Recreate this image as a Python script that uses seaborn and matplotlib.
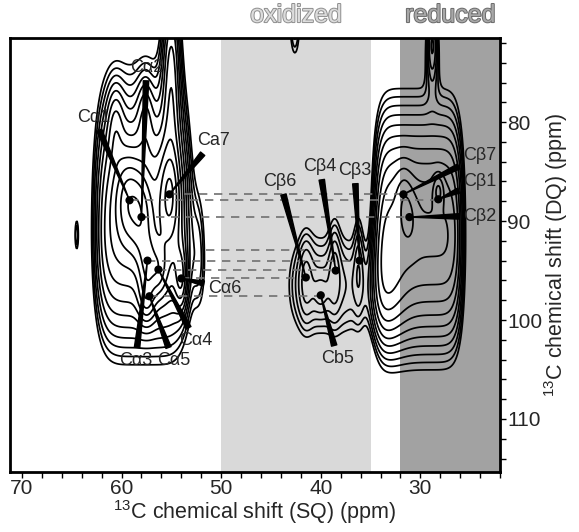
import numpy as np
import matplotlib.pyplot as plt
import seaborn as sns
from matplotlib import patheffects as pe
from matplotlib.ticker import MultipleLocator

# ---- spectrum model: peak table (ppm) ----
# columns: SQ centre, DQ centre, SQ half-width, SQ shape exponent,
#          DQ width towards low ppm (up), DQ width towards high ppm (down), amplitude
peak_sq    = [57.9, 55.0, 59.3, 58.0, 55.2, 57.4, 56.3, 54.0, 57.5, 60.6, 57.6, 64.5,
              52.2,
              39.6, 41.5, 38.6, 36.2, 40.0, 42.6,
              30.2, 33.8, 31.7, 28.2, 31.1, 28.8]
peak_dq    = [91.0, 74.0, 88.0, 89.6, 87.3, 94.0, 95.0, 95.8, 97.6, 80.0, 79.0, 91.4,
              94.0,
              96.5, 95.5, 94.5, 93.5, 97.5, 70.0,
              91.5, 97.0, 87.3, 86.9, 89.6, 72.0]
peak_wsq   = [4.7, 0.9, 1.2, 1.0, 0.9, 0.8, 0.8, 0.6, 0.8, 0.8, 0.8, 0.25,
              0.8,
              4.0, 0.7, 0.6, 0.5, 0.8, 0.6,
              4.4, 2.0, 0.8, 0.5, 0.8, 0.6]
peak_psq   = [6, 2, 2, 2, 2, 2, 2, 2, 2, 2, 2, 2,
              2,
              4, 2, 2, 2, 2, 2,
              8, 2, 2, 2, 2, 2]
peak_wup   = [13.0, 9.0, 4.0, 4.0, 4.0, 2.5, 2.5, 3.0, 2.5, 4.0, 4.0, 2.2,
              8.0,
              6.0, 5.0, 6.0, 6.0, 2.0, 4.0,
              11.0, 6.0, 3.0, 1.5, 3.0, 4.0]
peak_wdown = [10.5, 10.0, 4.0, 4.0, 4.0, 2.5, 2.5, 3.0, 2.5, 4.0, 4.0, 2.2,
              6.0,
              6.0, 5.0, 5.0, 6.0, 2.0, 4.0,
              10.0, 5.0, 3.0, 1.5, 3.0, 4.0]
peak_amp   = [0.42, 0.22, 0.28, 0.22, 0.22, 0.18, 0.18, 0.18, 0.18, 0.1, 0.1, 0.12,
              0.12,
              0.15, 0.06, 0.07, 0.07, 0.05, 0.14,
              0.5, 0.15, 0.1, 0.2, 0.1, 0.2]

# ---- assignments: Ca/Cb cross-peak positions and label positions (ppm) ----
ca_names = ['C\u03b11', 'C\u03b12', 'Ca7', 'C\u03b16', 'C\u03b14', 'C\u03b13', 'C\u03b15']
ca_sq    = [59.2, 58.0, 55.2, 54.0, 56.3, 57.4, 57.2]
ca_dq    = [87.9, 89.6, 87.3, 95.8, 94.9, 94.0, 97.6]
ca_tx    = [62.8, 57.5, 50.8, 49.6, 52.6, 58.6, 54.8]
ca_ty    = [79.5, 74.5, 81.9, 96.8, 102.1, 104.1, 104.1]

cb_names = ['C\u03b21', 'C\u03b22', 'C\u03b27', 'C\u03b26', 'C\u03b24', 'C\u03b23', 'Cb5']
cb_sq    = [28.2, 31.1, 31.7, 41.5, 38.5, 36.1, 40.0]
cb_dq    = [87.8, 89.6, 87.3, 95.7, 95.0, 94.0, 97.5]
cb_tx    = [25.7, 25.7, 25.7, 44.1, 40.1, 36.6, 38.3]
cb_ty    = [86.0, 89.5, 83.4, 86.0, 84.5, 84.9, 103.9]

extra_dash_dq = [92.9]
extra_dash_sq = [(51.5, 41.0)]

ox_range  = (50, 35)
red_range = (32, 22)

# ---- build the 2D map ----
sq = np.linspace(71.2, 22.0, 600)
dq = np.linspace(71.5, 115.4, 600)
SQ, DQ = np.meshgrid(sq, dq)
Z = np.zeros_like(SQ)
for x0, y0, wx, px, wu, wd, a in zip(peak_sq, peak_dq, peak_wsq, peak_psq,
                                     peak_wup, peak_wdown, peak_amp):
    dy = DQ - y0
    wy = np.where(dy < 0, wu, wd)
    Z += a * np.exp(-np.abs((SQ - x0) / wx) ** px) * np.exp(-(dy / wy) ** 2)

levels = 0.08 * 1.22 ** np.arange(12)

sns.set_theme(style='white')
plt.rcParams['font.family'] = ['Liberation Sans', 'DejaVu Sans']
plt.rcParams['mathtext.default'] = 'regular'

fig = plt.figure(figsize=(5.79, 5.32), dpi=100)
ax = fig.add_axes([0.0173, 0.112, 0.8463, 0.8166])

ax.axvspan(*ox_range, color='#d9d9d9', lw=0, zorder=0)
ax.axvspan(*red_range, color='#a2a2a2', lw=0, zorder=0)

ax.contour(SQ, DQ, Z, levels=levels, colors='black', linewidths=1.25, zorder=2)

# dashed connectors Ca -> Cb at the shared DQ shift
for xa, ya, xb in zip(ca_sq, ca_dq, cb_sq):
    ax.plot([xa, xb], [ya, ya], color='#707070', lw=1.2, ls=(0, (5, 4)), zorder=3)
for yv, (x1, x2) in zip(extra_dash_dq, extra_dash_sq):
    ax.plot([x1, x2], [yv, yv], color='#707070', lw=1.2, ls=(0, (5, 4)), zorder=3)

sns.scatterplot(x=ca_sq + cb_sq, y=ca_dq + cb_dq, color='black', s=35,
                edgecolor='none', ax=ax, zorder=5, legend=False)

wedge = dict(arrowstyle='wedge,tail_width=0.3,shrink_factor=0.5', color='black',
             shrinkA=1, shrinkB=0)
for names, xs, ys, txs, tys in [(ca_names, ca_sq, ca_dq, ca_tx, ca_ty),
                                (cb_names, cb_sq, cb_dq, cb_tx, cb_ty)]:
    for n, x, y, tx, ty in zip(names, xs, ys, txs, tys):
        ha = 'left' if tx < 27 else 'center'
        ax.annotate(n, xy=(x, y), xytext=(tx, ty), ha=ha, va='center', fontsize=13,
                    arrowprops=wedge, zorder=6)

ax.text(np.mean(ox_range), 70.4, 'oxidized', ha='center', va='bottom', fontsize=18,
        color='#dcdcdc', path_effects=[pe.Stroke(linewidth=1.4, foreground='#8e8e8e'), pe.Normal()])
ax.text(27.0, 70.4, 'reduced', ha='center', va='bottom', fontsize=18,
        color='#a8a8a8', path_effects=[pe.Stroke(linewidth=1.4, foreground='#6a6a6a'), pe.Normal()])

ax.set_xlim(71.2, 22.0)
ax.set_ylim(115.4, 71.5)
ax.xaxis.set_major_locator(MultipleLocator(10))
ax.xaxis.set_minor_locator(MultipleLocator(2))
ax.yaxis.set_major_locator(MultipleLocator(10))
ax.yaxis.set_minor_locator(MultipleLocator(2))
ax.yaxis.tick_right()
ax.yaxis.set_label_position('right')
ax.tick_params(which='both', direction='out', length=4, width=1, color='black',
               labelsize=15, pad=1, bottom=True, right=True, left=False, top=False)
for s in ax.spines.values():
    s.set_linewidth(2)
    s.set_color('black')

ax.set_xlabel('$^{13}$C chemical shift (SQ) (ppm)', fontsize=15.5, labelpad=0)
ax.set_ylabel('$^{13}$C chemical shift (DQ) (ppm)', fontsize=15.5, labelpad=0)

fig.savefig('out.png', dpi=100)
